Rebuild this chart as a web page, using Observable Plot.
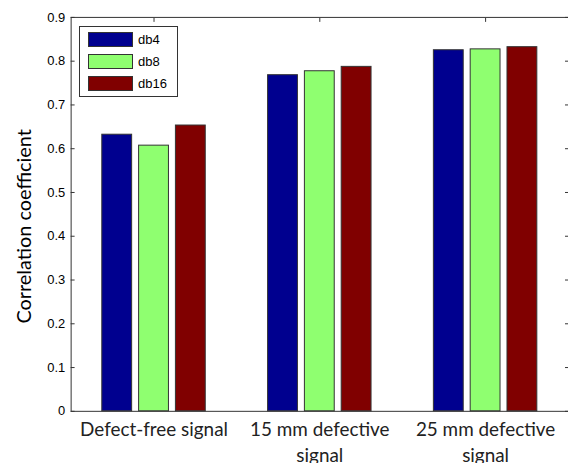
<!DOCTYPE html>
<html><head>
<meta charset="utf-8">
<script src="https://cdn.jsdelivr.net/npm/d3@7"></script>
<script src="https://cdn.jsdelivr.net/npm/@observablehq/plot@0.6"></script>
<style>
body{margin:0;background:#fff}
#wrap{position:relative;width:568px;height:463px;overflow:hidden;background:#fff}
.legend{position:absolute;left:79px;top:26px;width:99px;height:71px;border:1px solid #333;background:#fff;box-sizing:border-box;font:13px "Liberation Sans",Arial,sans-serif;color:#000}
.legend .row{position:absolute;left:8px;height:17px;display:flex;align-items:center}
.legend .sw{width:45px;height:15px;border:1px solid #333;box-sizing:border-box;margin-right:5px}
</style></head><body>
<div id="wrap"></div>
<script>
const categories = ["Defect-free signal", "15 mm defective\nsignal", "25 mm defective\nsignal"];
const series = ["db4", "db8", "db16"];
const db4 = [0.632, 0.768, 0.825];
const db8 = [0.607, 0.777, 0.827];
const db16 = [0.653, 0.787, 0.832];
const colors = ["#00008f", "#8fff70", "#800000"];
const yTicks = [0, 0.1, 0.2, 0.3, 0.4, 0.5, 0.6, 0.7, 0.8, 0.9];
const yTickLabels = ["0", "0.1", "0.2", "0.3", "0.4", "0.5", "0.6", "0.7", "0.8", "0.9"];
const yLabel = "Correlation coefficient";

const step = 0.222, bw = 0.18;
const data = [];
[db4, db8, db16].forEach((vals, si) => vals.forEach((v, ci) => {
  const c = ci + 1 + (si - 1) * step;
  data.push({series: series[si], x1: c - bw / 2, x2: c + bw / 2, value: v});
}));

const chart = Plot.plot({
  width: 571, height: 463,
  marginLeft: 71, marginRight: 0, marginTop: 17, marginBottom: 50,
  style: {background: "#fff", overflow: "visible"},
  x: {domain: [0.5, 3.5]},
  y: {domain: [0, 0.9]},
  color: {domain: series, range: colors},
  marks: [
    Plot.rect(data, {x1: "x1", x2: "x2", y1: 0, y2: "value", fill: "series", stroke: "#333", strokeWidth: 1}),
    Plot.axisY({ticks: yTicks, tickSize: 4, dx: 4, text: null, stroke: "#333", label: null}),
    Plot.axisY({ticks: yTicks, tickSize: 0, tickPadding: 6, tickFormat: (d, i) => yTickLabels[i], fontSize: 13, fontFamily: "Liberation Sans, Arial, sans-serif", fill: "#000", label: null}),
    Plot.axisY({anchor: "right", ticks: yTicks, tickSize: 4, dx: -4, text: null, stroke: "#333", label: null}),
    Plot.axisX({anchor: "top", ticks: [1, 2, 3], tickSize: 4, dy: 4, text: null, stroke: "#333", label: null}),
    Plot.axisX({anchor: "bottom", ticks: [1, 2, 3], tickSize: 0, tickPadding: 6, tickFormat: d => categories[d - 1], fontSize: 19, fontFamily: "Lato, sans-serif", lineHeight: 1.38, fill: "#222", label: null}),
    Plot.text([yLabel], {frameAnchor: "left", textAnchor: "middle", lineAnchor: "middle", dx: -47, dy: 12, rotate: -90, text: d => d, fontSize: 20, fontFamily: "Lato, sans-serif", fill: "#000"}),
    Plot.frame({stroke: "#333", strokeWidth: 1})
  ]
});
const wrap = document.getElementById("wrap");
wrap.appendChild(chart);

const legend = document.createElement("div");
legend.className = "legend";
series.forEach((s, i) => {
  const row = document.createElement("div");
  row.className = "row";
  row.style.top = (4 + i * 22) + "px";
  const sw = document.createElement("div");
  sw.className = "sw";
  sw.style.background = colors[i];
  const t = document.createElement("span");
  t.textContent = s;
  row.appendChild(sw); row.appendChild(t);
  legend.appendChild(row);
});
wrap.appendChild(legend);
</script>
</body></html>
